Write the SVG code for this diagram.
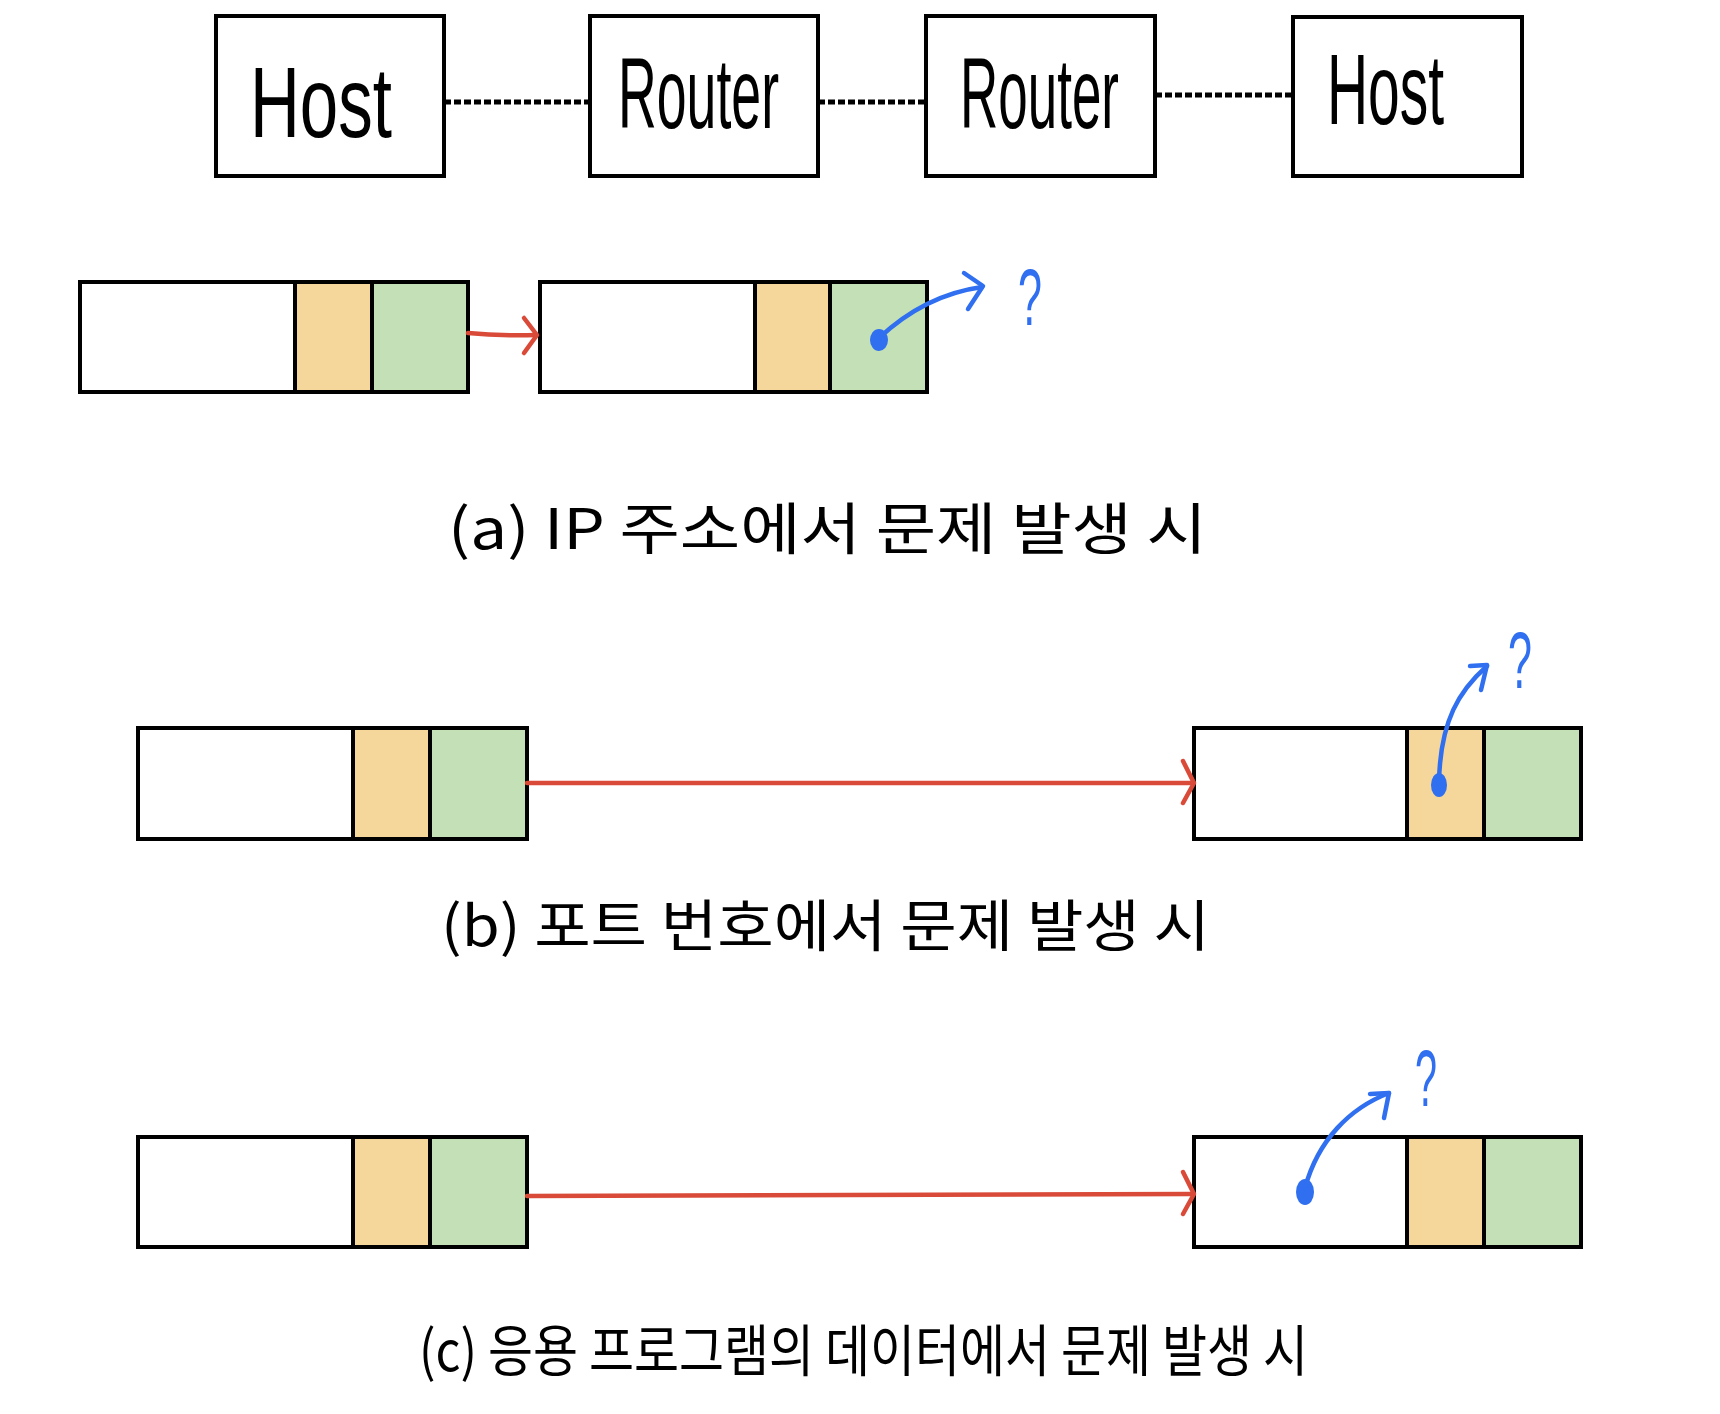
<svg xmlns="http://www.w3.org/2000/svg" width="1720" height="1414" viewBox="0 0 1720 1414">
<style>
.box{fill:#fff;stroke:#000;stroke-width:4}
.bd{fill:none;stroke:#000;stroke-width:4}
.org{fill:#F5D79C}
.grn{fill:#C4E0B6}
.lbl{font-family:"Liberation Sans","DejaVu Sans",sans-serif;font-size:100px;fill:#000}
.cap{font-family:"Noto Sans CJK KR","Noto Sans",sans-serif;font-size:56px;fill:#000}
.q{font-family:"Liberation Sans",sans-serif;font-size:80px;fill:#2F6FF0}
.dot{fill:none;stroke:#000;stroke-width:5;stroke-dasharray:7 3}
.red{fill:none;stroke:#D94A38;stroke-width:4.5;stroke-linecap:round;stroke-linejoin:round}
.blue{fill:none;stroke:#2F6FF0;stroke-width:4.5;stroke-linecap:round;stroke-linejoin:round}
.bdot{fill:#2F6FF0}
</style>
<rect width="1720" height="1414" fill="#fff"/>

<g id="host1"><rect class="box" x="216" y="16" width="228" height="160"/><text class="lbl" x="250" y="137" textLength="142" lengthAdjust="spacingAndGlyphs">Host</text></g>
<g id="router1"><rect class="box" x="590" y="16" width="228" height="160"/><text class="lbl" x="618" y="128" textLength="161" lengthAdjust="spacingAndGlyphs">Router</text></g>
<g id="router2"><rect class="box" x="926" y="16" width="229" height="160"/><text class="lbl" x="960" y="128" textLength="159" lengthAdjust="spacingAndGlyphs">Router</text></g>
<g id="host2"><rect class="box" x="1293" y="17" width="229" height="159"/><text class="lbl" x="1327" y="124" textLength="117" lengthAdjust="spacingAndGlyphs">Host</text></g>

<g id="packet-a1"><rect class="box" x="80" y="282" width="388" height="110"/><rect class="org" x="295" y="284" width="77" height="106"/><rect class="grn" x="372" y="284" width="94" height="106"/><rect class="bd" x="80" y="282" width="388" height="110"/><line class="bd" x1="295" y1="282" x2="295" y2="392"/><line class="bd" x1="372" y1="282" x2="372" y2="392"/></g>
<g id="packet-a2"><rect class="box" x="540" y="282" width="387" height="110"/><rect class="org" x="755" y="284" width="75" height="106"/><rect class="grn" x="830" y="284" width="95" height="106"/><rect class="bd" x="540" y="282" width="387" height="110"/><line class="bd" x1="755" y1="282" x2="755" y2="392"/><line class="bd" x1="830" y1="282" x2="830" y2="392"/></g>
<g id="caption-a"><text class="cap" x="448" y="549" textLength="759" lengthAdjust="spacingAndGlyphs">(a) IP 주소에서 문제 발생 시</text></g>

<g id="packet-b1"><rect class="box" x="138" y="728" width="389" height="111"/><rect class="org" x="353" y="730" width="77" height="107"/><rect class="grn" x="430" y="730" width="95" height="107"/><rect class="bd" x="138" y="728" width="389" height="111"/><line class="bd" x1="353" y1="728" x2="353" y2="839"/><line class="bd" x1="430" y1="728" x2="430" y2="839"/></g>
<g id="packet-b2"><rect class="box" x="1194" y="728" width="387" height="111"/><rect class="org" x="1407" y="730" width="77" height="107"/><rect class="grn" x="1484" y="730" width="95" height="107"/><rect class="bd" x="1194" y="728" width="387" height="111"/><line class="bd" x1="1407" y1="728" x2="1407" y2="839"/><line class="bd" x1="1484" y1="728" x2="1484" y2="839"/></g>
<g id="caption-b"><text class="cap" x="441" y="946" textLength="769" lengthAdjust="spacingAndGlyphs">(b) 포트 번호에서 문제 발생 시</text></g>

<g id="packet-c1"><rect class="box" x="138" y="1137" width="389" height="110"/><rect class="org" x="353" y="1139" width="77" height="106"/><rect class="grn" x="430" y="1139" width="95" height="106"/><rect class="bd" x="138" y="1137" width="389" height="110"/><line class="bd" x1="353" y1="1137" x2="353" y2="1247"/><line class="bd" x1="430" y1="1137" x2="430" y2="1247"/></g>
<g id="packet-c2"><rect class="box" x="1194" y="1137" width="387" height="110"/><rect class="org" x="1407" y="1139" width="77" height="106"/><rect class="grn" x="1484" y="1139" width="95" height="106"/><rect class="bd" x="1194" y="1137" width="387" height="110"/><line class="bd" x1="1407" y1="1137" x2="1407" y2="1247"/><line class="bd" x1="1484" y1="1137" x2="1484" y2="1247"/></g>
<g id="caption-c"><text class="cap" x="419" y="1371" textLength="889" lengthAdjust="spacingAndGlyphs">(c) 응용 프로그램의 데이터에서 문제 발생 시</text></g>

<g id="connectors">
<line class="dot" x1="444" y1="102" x2="590" y2="102"/>
<line class="dot" x1="818" y1="102" x2="926" y2="102"/>
<line class="dot" x1="1155" y1="95" x2="1293" y2="95"/>

<path class="red" d="M468,333 Q500,336 536,335"/>
<path class="red" d="M524,318 L537,335 L524,353"/>

<path class="red" d="M527,783 L1193,783"/>
<path class="red" d="M1183,761 L1194,783 L1183,803"/>

<path class="red" d="M527,1196 L1193,1194"/>
<path class="red" d="M1183,1172 L1194,1194 L1183,1214"/>

<ellipse class="bdot" cx="879" cy="340" rx="9" ry="11"/>
<path class="blue" d="M879,338 Q925,295 982,287"/>
<path class="blue" d="M964,273 L983,286 L968,309"/>
<text class="q" x="1018" y="325" textLength="24" lengthAdjust="spacingAndGlyphs">?</text>

<ellipse class="bdot" cx="1439" cy="785" rx="8" ry="12"/>
<path class="blue" d="M1439,783 C1440,720 1460,690 1487,666"/>
<path class="blue" d="M1470,666 L1487,665 L1481,690"/>
<text class="q" x="1508" y="688" textLength="24" lengthAdjust="spacingAndGlyphs">?</text>

<ellipse class="bdot" cx="1305" cy="1192" rx="9" ry="13"/>
<path class="blue" d="M1305,1188 C1318,1140 1350,1108 1389,1093"/>
<path class="blue" d="M1370,1094 L1389,1093 L1384,1118"/>
<text class="q" x="1415" y="1106" textLength="22" lengthAdjust="spacingAndGlyphs">?</text>
</g>
</svg>
